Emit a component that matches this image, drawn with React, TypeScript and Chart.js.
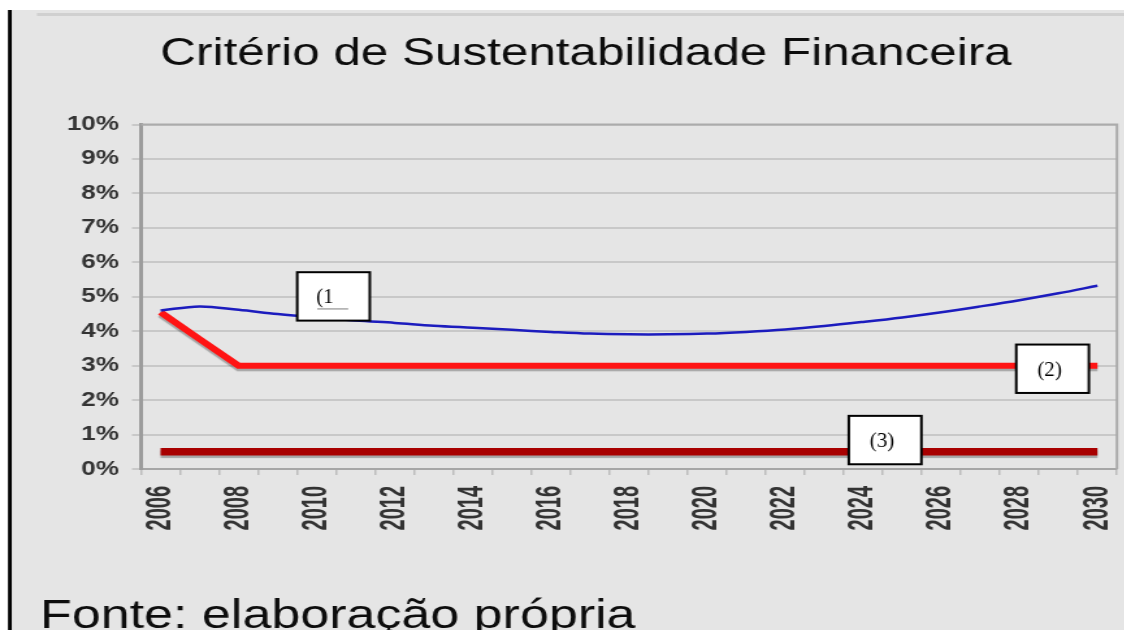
import React, { useEffect, useRef } from 'react';
import { Chart, registerables } from 'chart.js';

Chart.register(...registerables);

// ---- data ----
const years = [
  '2006', '2007', '2008', '2009', '2010', '2011', '2012', '2013', '2014', '2015',
  '2016', '2017', '2018', '2019', '2020', '2021', '2022', '2023', '2024', '2025',
  '2026', '2027', '2028', '2029', '2030',
];
const serie1 = [
  4.60, 4.72, 4.62, 4.50, 4.40, 4.31, 4.24, 4.16, 4.10, 4.04,
  3.98, 3.93, 3.91, 3.91, 3.93, 3.98, 4.05, 4.15, 4.27, 4.40,
  4.55, 4.72, 4.90, 5.10, 5.32,
];
const serie2 = [
  4.55, 3.77, 3.0, 3.0, 3.0, 3.0, 3.0, 3.0, 3.0, 3.0,
  3.0, 3.0, 3.0, 3.0, 3.0, 3.0, 3.0, 3.0, 3.0, 3.0,
  3.0, 3.0, 3.0, 3.0, 3.0,
];
const serie3 = [
  0.5, 0.5, 0.5, 0.5, 0.5, 0.5, 0.5, 0.5, 0.5, 0.5,
  0.5, 0.5, 0.5, 0.5, 0.5, 0.5, 0.5, 0.5, 0.5, 0.5,
  0.5, 0.5, 0.5, 0.5, 0.5,
];
const yTickLabels = ['0%', '1%', '2%', '3%', '4%', '5%', '6%', '7%', '8%', '9%', '10%'];
const xTickLabels = ['2006', '2008', '2010', '2012', '2014', '2016', '2018', '2020', '2022', '2024', '2026', '2028', '2030'];
const titleText = 'Critério de Sustentabilidade Financeira';
const sourceText = 'Fonte: elaboração própria';
const boxLabels = ['(1', '(2)', '(3)'];
const boxAnchorIndex = [4.43, 22.85, 18.56];
const boxAnchorValue = [5.01, 2.91, 0.84];

// ---- layout ----
const SX = 1.3; // horizontal stretch of the picture
const CW = 865;
const CH = 630;
const SANS = '"Liberation Sans", Arial, sans-serif';
const SERIF = '"Liberation Serif", "Times New Roman", serif';

const decor = {
  id: 'decor',
  beforeDraw(chart: any) {
    const ctx = chart.ctx;
    ctx.save();
    ctx.fillStyle = '#ffffff';
    ctx.fillRect(0, 0, CW, CH);
    ctx.fillStyle = '#000000';
    ctx.fillRect(8 / SX, 10, 4 / SX, CH - 10);
    ctx.fillStyle = '#e5e5e5';
    ctx.fillRect(12 / SX, 10, CW, CH - 10);
    ctx.fillStyle = '#d0d0d0';
    ctx.fillRect(37 / SX, 13, CW, 3);
    ctx.restore();
  },
  beforeDatasetsDraw(chart: any) {
    const ctx = chart.ctx;
    const a = chart.chartArea;
    ctx.save();
    ctx.strokeStyle = '#ababab';
    ctx.lineWidth = 2;
    ctx.beginPath();
    ctx.moveTo(a.left, a.top);
    ctx.lineTo(a.right, a.top);
    ctx.lineTo(a.right, a.bottom);
    ctx.stroke();
    ctx.restore();
  },
  beforeDatasetDraw(chart: any, args: any) {
    const ctx = chart.ctx;
    ctx.save();
    if (args.index > 0) {
      ctx.shadowColor = 'rgba(0,0,0,0.28)';
      ctx.shadowOffsetY = 2.5;
      ctx.shadowOffsetX = 0;
      ctx.shadowBlur = 1;
    }
  },
  afterDatasetDraw(chart: any) {
    chart.ctx.restore();
  },
  afterDraw(chart: any) {
    const ctx = chart.ctx;
    const xs = chart.scales.x;
    const ys = chart.scales.y;

    // title
    ctx.save();
    ctx.fillStyle = '#0d0d0d';
    ctx.font = `38px ${SANS}`;
    ctx.textAlign = 'center';
    ctx.textBaseline = 'alphabetic';
    ctx.fillText(titleText, 586 / SX, 65);
    ctx.restore();

    // x tick labels (vertical)
    const capH = 0.716 * 27;
    years.forEach((yr, i) => {
      if (!xTickLabels.includes(yr)) return;
      const px = xs.getPixelForValue(i) - 3 / SX;
      ctx.save();
      ctx.translate(px + capH / 2, xs.top + 17);
      ctx.rotate(-Math.PI / 2);
      ctx.scale(0.74, 1);
      ctx.font = `bold 27px ${SANS}`;
      ctx.fillStyle = '#333333';
      ctx.textAlign = 'right';
      ctx.textBaseline = 'alphabetic';
      ctx.fillText(yr, 0, 0);
      ctx.restore();
    });

    // source
    ctx.save();
    ctx.fillStyle = '#0d0d0d';
    ctx.font = `40px ${SANS}`;
    ctx.textAlign = 'left';
    ctx.textBaseline = 'alphabetic';
    ctx.fillText(sourceText, 40 / SX, 628);
    ctx.restore();

    // label boxes
    const bw = 72.6 / SX;
    const bh = 48.4;
    boxLabels.forEach((lab, i) => {
      const cx = xs.getPixelForValue(boxAnchorIndex[i]);
      const cy = ys.getPixelForValue(boxAnchorValue[i]);
      ctx.save();
      ctx.fillStyle = '#ffffff';
      ctx.fillRect(cx - bw / 2, cy - bh / 2, bw, bh);
      ctx.strokeStyle = '#000000';
      ctx.lineWidth = 2;
      ctx.strokeRect(cx - bw / 2, cy - bh / 2, bw, bh);
      ctx.fillStyle = '#000000';
      ctx.font = `21px ${SERIF}`;
      ctx.textBaseline = 'alphabetic';
      if (lab.endsWith(')')) {
        ctx.translate(cx - 3 / SX, cy + 7);
        ctx.scale(1 / SX, 1);
        ctx.textAlign = 'center';
        ctx.fillText(lab, 0, 0);
      } else {
        const left = cx - bw / 2;
        ctx.strokeStyle = '#a8a8a8';
        ctx.lineWidth = 1.5;
        ctx.beginPath();
        ctx.moveTo(left + 20 / SX, cy + 12.5);
        ctx.lineTo(left + 51 / SX, cy + 12.5);
        ctx.stroke();
        ctx.translate(left + 19 / SX, cy + 7);
        ctx.scale(1 / SX, 1);
        ctx.textAlign = 'left';
        ctx.fillText(lab, 0, 0);
      }
      ctx.restore();
    });
  },
};

export default function App() {
  const ref = useRef<HTMLCanvasElement | null>(null);

  useEffect(() => {
    if (!ref.current) return;
    const chart = new Chart(ref.current, {
      type: 'line',
      data: {
        labels: years,
        datasets: [
          {
            label: '(1)',
            data: serie1,
            borderColor: '#1c1cbe',
            borderWidth: 2.5,
            pointRadius: 0,
            tension: 0.35,
            fill: false,
          },
          {
            label: '(2)',
            data: serie2,
            borderColor: '#ff1414',
            borderWidth: 6,
            pointRadius: 0,
            tension: 0,
            fill: false,
          },
          {
            label: '(3)',
            data: serie3,
            borderColor: '#a80000',
            borderWidth: 7.5,
            pointRadius: 0,
            tension: 0,
            fill: false,
          },
        ],
      },
      options: {
        responsive: false,
        animation: false,
        events: [],
        layout: {
          padding: { left: 28.5, right: 5.8, top: 124.5, bottom: 61 },
        },
        plugins: {
          legend: { display: false },
          tooltip: { enabled: false },
          title: { display: false },
        },
        scales: {
          x: {
            type: 'category',
            offset: true,
            grid: {
              display: true,
              offset: true,
              drawOnChartArea: false,
              drawTicks: true,
              tickLength: 6,
              color: '#bdbdbd',
              lineWidth: 1.5,
            },
            border: { display: true, color: '#a6a6a6', width: 2 },
            ticks: { display: false, autoSkip: false },
            afterFit: (s: any) => {
              s.height = 100;
            },
          },
          y: {
            min: 0,
            max: 10,
            ticks: {
              stepSize: 1,
              autoSkip: false,
              padding: 10,
              color: '#333333',
              font: { family: SANS, size: 20, weight: 'bold' },
              callback: (v: any) => yTickLabels[Math.round(Number(v))] ?? '',
            },
            grid: {
              color: '#c8c8c8',
              lineWidth: 2,
              tickLength: 7,
              drawTicks: true,
            },
            border: { display: true, color: '#9c9c9c', width: 3 },
            afterFit: (s: any) => {
              s.width = 80;
            },
          },
        },
      },
      plugins: [decor],
    });
    return () => chart.destroy();
  }, []);

  return (
    <div
      style={{
        position: 'fixed',
        left: 0,
        top: 0,
        width: 1124,
        height: 630,
        overflow: 'hidden',
        background: '#ffffff',
      }}
    >
      <div
        style={{
          width: CW,
          height: CH,
          transform: `scaleX(${SX})`,
          transformOrigin: '0 0',
        }}
      >
        <canvas ref={ref} width={CW} height={CH} style={{ display: 'block' }} />
      </div>
    </div>
  );
}
